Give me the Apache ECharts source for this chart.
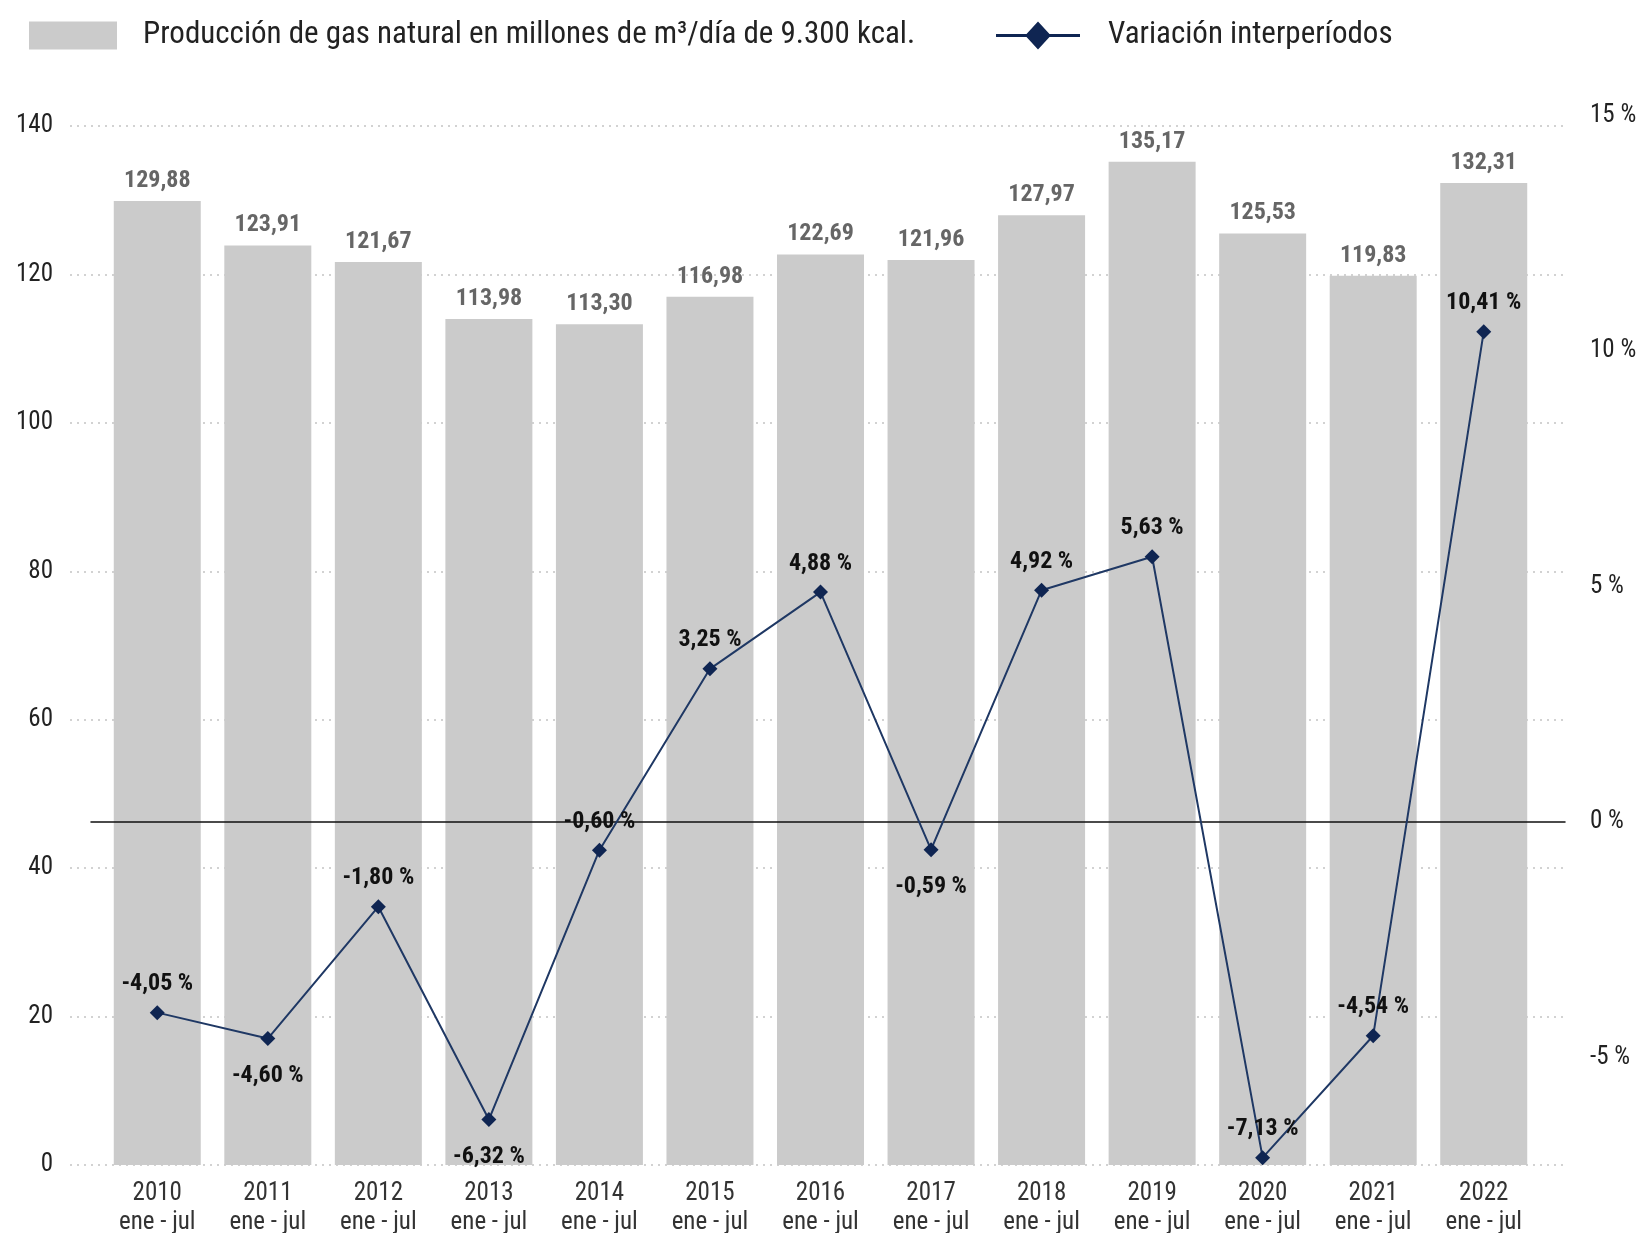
<!DOCTYPE html>
<html>
<head>
<meta charset="utf-8">
<title>Producción de gas natural</title>
<script src="https://cdn.jsdelivr.net/npm/echarts/dist/echarts.min.js"></script>
<style>
  html, body { margin: 0; padding: 0; background: #fff; }
  #chart { width: 1636px; height: 1233px; }
</style>
</head>
<body>
<div id="chart"></div>
<script>
// datos
const years = ['2010', '2011', '2012', '2013', '2014', '2015', '2016', '2017', '2018', '2019', '2020', '2021', '2022'];
const period = 'ene - jul';
const produccion = [129.88, 123.91, 121.67, 113.98, 113.30, 116.98, 122.69, 121.96, 127.97, 135.17, 125.53, 119.83, 132.31];
const variacion = [-4.05, -4.60, -1.80, -6.32, -0.60, 3.25, 4.88, -0.59, 4.92, 5.63, -7.13, -4.54, 10.41];
const leftTicks = [0, 140, 20];       // min, max, interval
const rightTicks = [-7.5, 15, 2.5];   // labels only on multiples of 5

const barName = 'Producción de gas natural en millones de m³/día de 9.300 kcal.';
const lineName = 'Variación interperíodos';

const FONT = "'Roboto Condensed', 'Liberation Sans Narrow', 'Arial Narrow', 'DejaVu Sans Condensed', sans-serif";
const fmt = v => v.toFixed(2).replace('.', ',');

// labels of the line that sit under the marker
const below = [1, 3, 7];

// legend icon: line with a diamond in the middle (84 x 28 box)
const lineIcon = 'path://M0,12.5L30.5,12.5L42,0L53.5,12.5L84,12.5L84,15.5L53.5,15.5L42,28L30.5,15.5L0,15.5Z';

const chart = echarts.init(document.getElementById('chart'));

const categories = years.map(y => y + '\n' + period);

const option = {
  animation: false,
  textStyle: { fontFamily: FONT },
  legend: [
    {
      data: [barName],
      left: 24,
      top: 15,
      icon: 'rect',
      itemWidth: 88,
      itemHeight: 28,
      textStyle: { fontFamily: FONT, fontSize: 31, color: '#222', padding: [0, 0, 0, 21] }
    },
    {
      data: [{ name: lineName, icon: lineIcon }],
      left: 991,
      top: 15,
      itemWidth: 84,
      itemHeight: 28,
      itemStyle: { color: '#0f2552' },
      textStyle: { fontFamily: FONT, fontSize: 31, color: '#222', padding: [0, 0, 0, 23] }
    }
  ],
  grid: [
    // bars
    { left: 102, right: 97, top: 126, bottom: 68, outerBoundsMode: 'none' },
    // line (right axis)
    { left: 102, right: 97, top: 115.5, bottom: 57.9, outerBoundsMode: 'none' },
    // frame: left labels and dotted grid lines
    { left: 70, right: 69, top: 126, bottom: 68, outerBoundsMode: 'none' },
    // zero line
    { left: 91, right: 71, top: 115.5, bottom: 57.9, outerBoundsMode: 'none' }
  ],
  xAxis: [
    {
      gridIndex: 0,
      type: 'category',
      data: categories,
      axisLine: { show: false },
      axisTick: { show: false },
      axisLabel: { fontFamily: FONT, fontSize: 25, color: '#333', lineHeight: 29, margin: 14 }
    },
    { gridIndex: 1, type: 'category', data: categories, show: false },
    { gridIndex: 2, type: 'value', min: 0, max: 1, show: false },
    {
      gridIndex: 3,
      type: 'value',
      min: 0,
      max: 1,
      axisLine: { show: true, onZero: true, lineStyle: { color: '#111', width: 1.5 } },
      axisTick: { show: false },
      axisLabel: { show: false },
      splitLine: { show: false },
      z: 5
    }
  ],
  yAxis: [
    { gridIndex: 0, type: 'value', min: leftTicks[0], max: leftTicks[1], interval: leftTicks[2], show: false },
    {
      gridIndex: 1,
      type: 'value',
      position: 'right',
      min: rightTicks[0],
      max: rightTicks[1],
      interval: rightTicks[2],
      axisLine: { show: false },
      axisTick: { show: false },
      splitLine: { show: false },
      axisLabel: {
        margin: 51,
        fontFamily: FONT,
        fontSize: 25,
        color: '#222',
        padding: [5, 0, 0, 0],
        formatter: v => (Math.abs(v % 5) < 1e-9 ? v + ' %' : '')
      }
    },
    {
      gridIndex: 2,
      type: 'value',
      min: leftTicks[0],
      max: leftTicks[1],
      interval: leftTicks[2],
      axisLine: { show: false },
      axisTick: { show: false },
      axisLabel: { margin: 17, fontFamily: FONT, fontSize: 25, color: '#222', padding: [4, 0, 0, 0] },
      splitLine: { show: true, lineStyle: { color: '#c4c4c4', type: [2, 5], width: 1.5 } }
    },
    { gridIndex: 3, type: 'value', min: rightTicks[0], max: rightTicks[1], show: false }
  ],
  series: [
    {
      name: barName,
      type: 'bar',
      xAxisIndex: 0,
      yAxisIndex: 0,
      data: produccion,
      barWidth: 87,
      itemStyle: { color: '#cbcbcb' },
      label: {
        show: true,
        position: 'top',
        distance: 8,
        fontFamily: FONT,
        fontSize: 24,
        fontWeight: 'bold',
        color: '#666',
        formatter: p => fmt(p.value)
      }
    },
    {
      name: lineName,
      type: 'line',
      xAxisIndex: 1,
      yAxisIndex: 1,
      z: 6,
      data: variacion.map((v, i) => ({
        value: v,
        label: below.includes(i) ? { position: 'bottom', distance: 18 } : undefined
      })),
      symbol: 'diamond',
      symbolSize: 15,
      lineStyle: { color: '#1f3864', width: 2 },
      itemStyle: { color: '#0f2552' },
      label: {
        show: true,
        position: 'top',
        distance: 9,
        fontFamily: FONT,
        fontSize: 24,
        fontWeight: 'bold',
        color: '#111',
        formatter: p => fmt(p.value) + ' %'
      }
    }
  ]
};

chart.setOption(option);
</script>
</body>
</html>
